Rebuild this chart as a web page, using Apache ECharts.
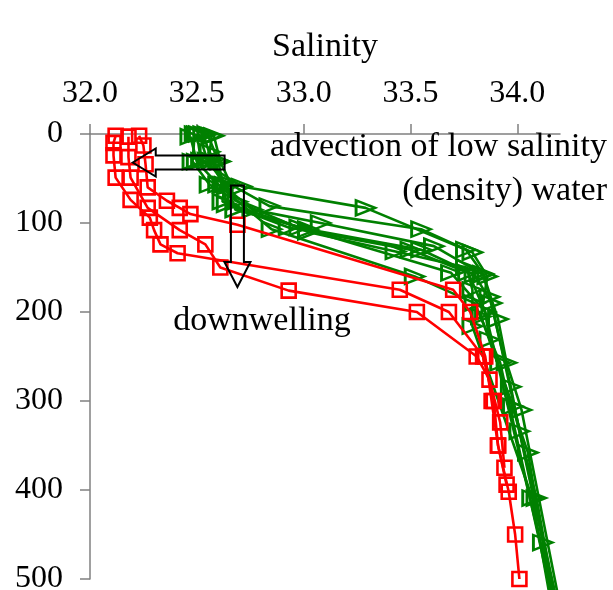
<!DOCTYPE html>
<html>
<head>
<meta charset="utf-8">
<script src="https://cdn.jsdelivr.net/npm/echarts@6/dist/echarts.min.js"></script>
<style>
    html, body { margin: 0; padding: 0; background: #fff; }
    #chart { width: 613px; height: 590px; }
</style>
</head>
<body>
<div id="chart"></div>
<script>
    // profiles as [salinity, depth(m)]
    var red1 = [[32.23, 2], [32.25, 13], [32.26, 34], [32.27, 60], [32.36, 75], [32.42, 83], [32.47, 90], [32.69, 102],
        [33.70, 175], [33.78, 200], [33.85, 250], [33.88, 300], [33.91, 350], [33.96, 402], [33.99, 450], [34.01, 500]];
    var red2 = [[32.18, 3], [32.18, 26], [32.19, 49], [32.27, 83], [32.42, 108], [32.54, 124], [32.61, 150], [32.93, 176],
        [33.53, 200], [33.81, 250], [33.87, 276], [33.92, 324], [33.94, 375]];
    var red3 = [[32.12, 2], [32.11, 10], [32.11, 24], [32.12, 49], [32.19, 74], [32.28, 94], [32.30, 108], [32.33, 124],
        [32.41, 134], [33.45, 175], [33.68, 200], [33.84, 250], [33.89, 300], [33.91, 350], [33.95, 394]];

    var green1 = [[32.50, 0], [32.52, 30], [32.71, 59], [33.29, 83], [33.76, 130], [33.84, 157], [33.91, 208], [33.95, 257],
        [34.02, 310], [34.20, 530]];
    var green2 = [[32.58, 2], [32.61, 31], [32.66, 57], [32.84, 81], [33.55, 107], [33.79, 133], [33.86, 160], [33.83, 205],
        [33.98, 306], [34.09, 409], [34.18, 530]];
    var green3 = [[32.53, 0], [32.57, 30], [32.62, 57], [32.76, 85], [33.08, 100], [33.61, 126], [33.84, 158], [33.87, 183],
        [33.97, 284], [34.01, 334], [34.12, 459], [34.19, 530]];
    var green4 = [[32.49, 0], [32.48, 31], [32.56, 57], [32.69, 76], [33.02, 110], [33.43, 132], [33.76, 150], [33.85, 200],
        [33.87, 231], [34.05, 358], [34.17, 530]];
    var green5 = [[32.55, 0], [32.60, 30], [32.64, 79], [32.93, 105], [33.50, 130], [33.77, 156], [33.79, 175], [33.79, 216],
        [34.07, 409], [34.16, 530]];
    var green6 = [[32.47, 3], [32.50, 31], [32.60, 57], [32.85, 107], [33.52, 160], [33.80, 190], [33.92, 257],
        [34.17, 530]];
    var green7 = [[32.57, 2], [32.56, 20], [32.63, 57], [32.62, 76], [32.98, 105], [33.69, 156], [33.85, 200],
        [34.18, 530]];
    var green8 = [[32.51, 0], [32.55, 30], [32.64, 59], [32.68, 85], [33.02, 107], [33.55, 130], [33.80, 158], [33.88, 190],
        [34.19, 530]];

    var redProfiles = [red1, red2, red3];
    var greenProfiles = [green1, green2, green3, green4, green5, green6, green7, green8];

    // arrow anchors [salinity, depth]: tail -> tip
    var advectionArrow = [[32.63, 32], [32.20, 32]];
    var downArrow = [[32.69, 58], [32.69, 172]];

    var font = '"Liberation Serif", "Times New Roman", serif';

    var chart = echarts.init(document.getElementById('chart'));

    var series = [];
    greenProfiles.forEach(function (p) {
        series.push({
            type: 'line',
            data: p,
            clip: false,
            symbol: 'triangle',
            symbolRotate: -90,
            symbolSize: [15, 19],
            showAllSymbol: true,
            lineStyle: {color: '#008000', width: 2.6},
            itemStyle: {color: 'rgba(0,0,0,0)', borderColor: '#008000', borderWidth: 2.6},
            z: 2
        });
    });
    redProfiles.forEach(function (p) {
        series.push({
            type: 'line',
            data: p,
            clip: false,
            symbol: 'rect',
            symbolSize: 14,
            showAllSymbol: true,
            lineStyle: {color: '#ff0000', width: 2.6},
            itemStyle: {color: 'rgba(0,0,0,0)', borderColor: '#ff0000', borderWidth: 2.6},
            z: 3
        });
    });

    var axisGray = '#808080';

    var option = {
        animation: false,
        backgroundColor: '#fff',
        grid: {left: 90, top: 134, right: 53, bottom: 11, containLabel: false, outerBoundsMode: 'none'},
        xAxis: {
            type: 'value',
            position: 'top',
            min: 32,
            max: 34.2,
            interval: 0.5,
            name: 'Salinity',
            nameLocation: 'middle',
            nameGap: 70,
            nameTextStyle: {fontFamily: font, fontSize: 34, color: '#000'},
            axisLine: {show: true, onZero: false, lineStyle: {color: axisGray, width: 1.5}},
            axisTick: {show: true, inside: false, length: 10, lineStyle: {color: axisGray, width: 1.5}},
            axisLabel: {
                fontFamily: font, fontSize: 32, color: '#000', margin: 24, showMaxLabel: false,
                formatter: function (v) { return v.toFixed(1); }
            },
            splitLine: {show: false}
        },
        yAxis: {
            type: 'value',
            inverse: true,
            min: 0,
            max: 500,
            interval: 100,
            axisLine: {show: true, onZero: false, lineStyle: {color: axisGray, width: 1.5}},
            axisTick: {show: true, inside: false, length: 10, lineStyle: {color: axisGray, width: 1.5}},
            axisLabel: {fontFamily: font, fontSize: 32, color: '#000', margin: 27},
            splitLine: {show: false}
        },
        series: series
    };
    chart.setOption(option);

    // annotation arrows and labels
    function px(p) { return chart.convertToPixel({gridIndex: 0}, p); }
    var a0 = px(advectionArrow[0]), a1 = px(advectionArrow[1]);
    var d0 = px(downArrow[0]), d1 = px(downArrow[1]);
    var hx = a1[0] + 23, ty = a1[1];
    var hy = d1[1] - 25, dx = d0[0];
    var arrowStyle = {fill: 'none', stroke: '#000', lineWidth: 2};

    chart.setOption({
        graphic: [
            {
                type: 'polygon', z: 10,
                shape: {points: [[a1[0], ty], [hx, ty - 14], [hx, ty - 7], [a0[0], ty - 7], [a0[0], ty + 7], [hx, ty + 7], [hx, ty + 14]]},
                style: arrowStyle
            },
            {
                type: 'polygon', z: 10,
                shape: {points: [[dx - 6.5, d0[1]], [dx + 6.5, d0[1]], [dx + 6.5, hy], [dx + 13, hy], [dx, d1[1]], [dx - 13, hy], [dx - 6.5, hy]]},
                style: arrowStyle
            },
            {type: 'text', z: 10, x: 607, y: 147,
                style: {text: 'advection of low salinity', font: '34px ' + font, fill: '#000', align: 'right', verticalAlign: 'middle'}},
            {type: 'text', z: 10, x: 607, y: 191,
                style: {text: '(density) water', font: '34px ' + font, fill: '#000', align: 'right', verticalAlign: 'middle'}},
            {type: 'text', z: 10, x: 262, y: 321,
                style: {text: 'downwelling', font: '34px ' + font, fill: '#000', align: 'center', verticalAlign: 'middle'}}
        ]
    });
</script>
</body>
</html>
